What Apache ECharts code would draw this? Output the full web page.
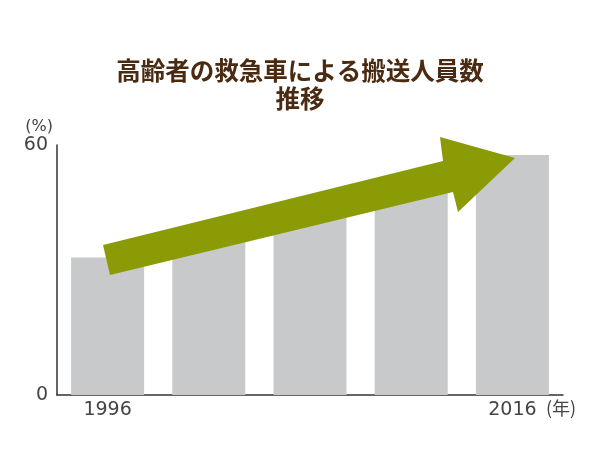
<!DOCTYPE html>
<html>
<head>
<meta charset="utf-8">
<script src="https://cdn.jsdelivr.net/npm/echarts@6/dist/echarts.min.js"></script>
<style>html,body{margin:0;padding:0;background:#fff}#c{width:600px;height:450px}</style>
</head>
<body>
<div id="c"></div>
<script>
var categories = ['1996', '2001', '2006', '2011', '2016'];
var values = [33, 38, 44, 50, 57.6];
var shownLabels = ['1996', '2016'];
var yTicks = [0, 60];

var chart = echarts.init(document.getElementById('c'), null, {renderer: 'canvas'});
var cjk = '"Noto Sans CJK JP", "Noto Sans", sans-serif';
var num = '"DejaVu Sans", sans-serif';
chart.setOption({
  animation: false,
  backgroundColor: '#ffffff',
  title: {
    text: '高齢者の救急車による搬送人員数\n推移',
    left: 'center',
    top: 52,
    textStyle: {color: '#4a2a10', fontSize: 24.5, fontWeight: 'bold', fontFamily: cjk, lineHeight: 28}
  },
  grid: {left: 57, right: 37, top: 145, bottom: 55},
  xAxis: {
    type: 'category',
    data: categories,
    axisLine: {lineStyle: {color: '#333', width: 1.5}},
    axisTick: {show: false},
    axisLabel: {
      interval: 0,
      color: '#444',
      fontSize: 19,
      fontFamily: num,
      margin: 6,
      formatter: function (v) { return shownLabels.indexOf(v) >= 0 ? v : ''; }
    },
    name: '(年)',
    nameLocation: 'end',
    nameGap: -17,
    nameTextStyle: {color: '#444', fontSize: 18, fontFamily: cjk, align: 'left', verticalAlign: 'top', padding: [4, 0, 0, 0]}
  },
  yAxis: {
    type: 'value',
    min: yTicks[0],
    max: yTicks[1],
    interval: yTicks[1] - yTicks[0],
    splitLine: {show: false},
    axisLine: {show: true, lineStyle: {color: '#333', width: 1.5}},
    axisTick: {show: false},
    axisLabel: {color: '#444', fontSize: 19, fontFamily: num, margin: 9},
    name: '(%)',
    nameLocation: 'end',
    nameGap: 18,
    nameTextStyle: {color: '#444', fontSize: 16, fontFamily: num, align: 'right', verticalAlign: 'middle', padding: [0, 4, 0, 0]}
  },
  series: [{
    type: 'bar',
    data: values,
    barWidth: 73,
    itemStyle: {color: '#c8c9ca'},
    silent: true
  }],
  graphic: [{
    type: 'polygon',
    z: 100,
    shape: {points: [[103, 245], [443, 161], [440, 137], [515, 158], [458, 212], [453, 192], [110, 275]]},
    style: {fill: '#8b9b05'}
  }]
});
</script>
</body>
</html>
